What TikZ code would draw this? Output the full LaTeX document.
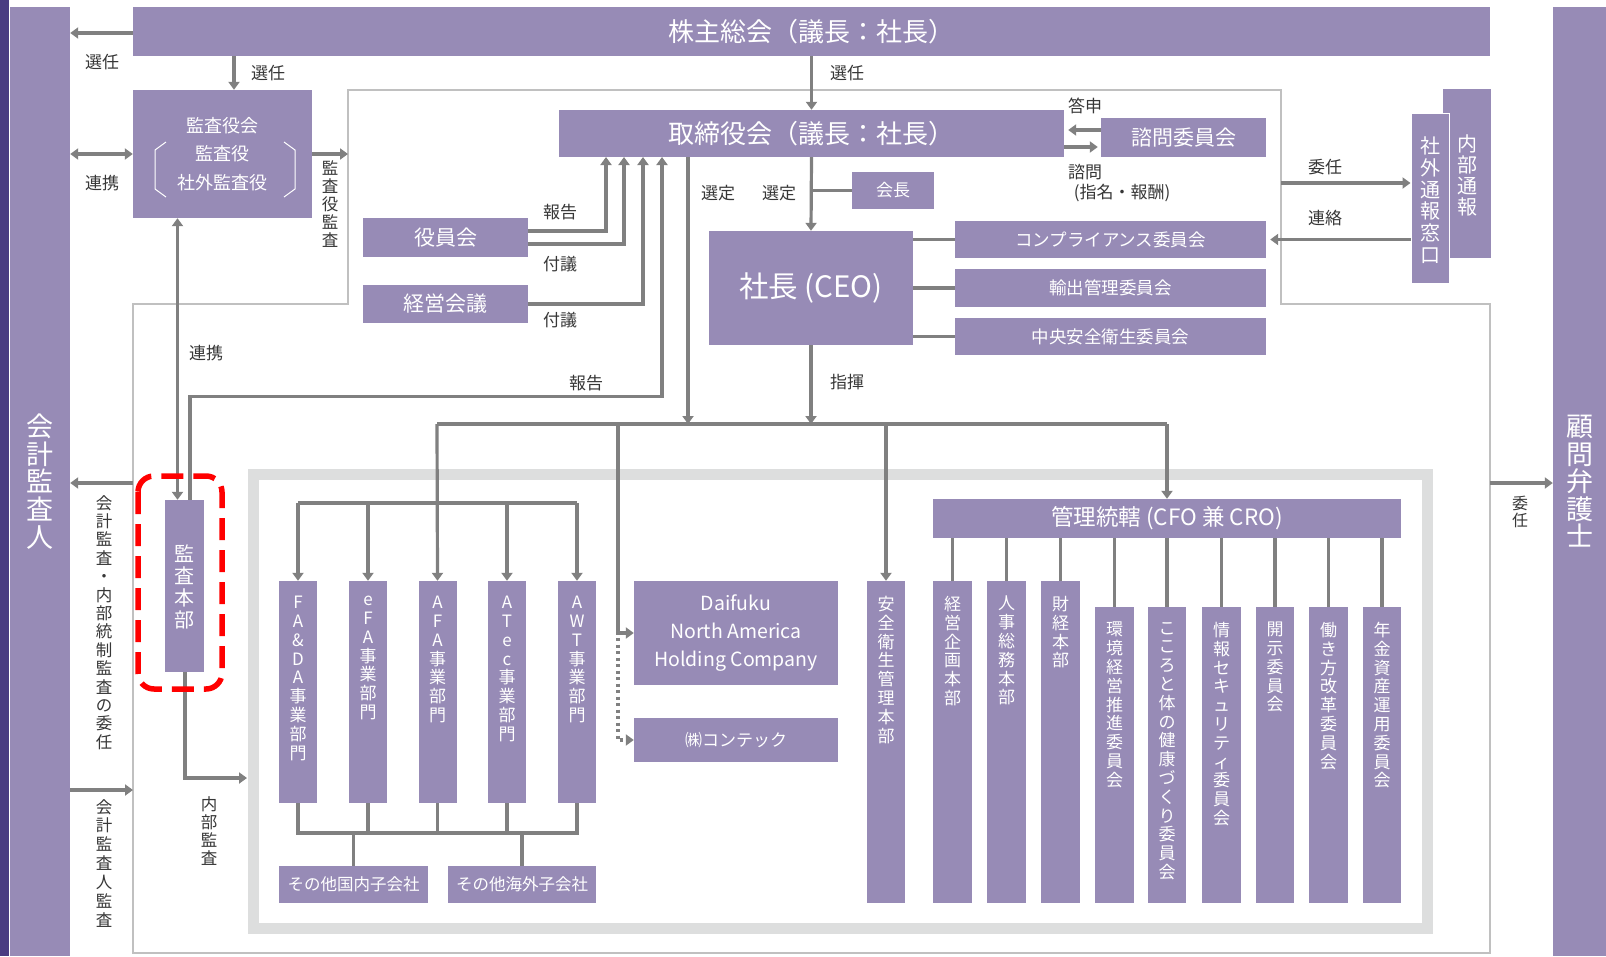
\documentclass[tikz,border=0pt]{standalone}
\usepackage{fontspec}
\setmainfont{Noto Sans CJK JP}
\usetikzlibrary{arrows.meta}
\definecolor{boxc}{RGB}{151,139,182}
\definecolor{darkband}{RGB}{74,60,130}
\definecolor{arrc}{RGB}{128,128,128}
\definecolor{lblc}{RGB}{55,55,55}
\definecolor{framec}{RGB}{192,192,192}
\definecolor{gframe}{RGB}{221,222,222}
\definecolor{redc}{RGB}{255,0,0}
\makeatletter
\newcommand\vstack[1]{\vbox{\@tfor\vs@c:=#1\do{\hbox to 1em{\hss\vs@c\hss}}}}
\makeatother
\newcommand\fs[2]{\fontsize{#1}{#2}\selectfont}
\tikzset{
  box/.style={fill=boxc, draw=none, text=white, inner sep=0pt, align=center},
  lbl/.style={text=lblc, inner sep=0pt, font=\fs{17}{19}},
  vt/.style={text=white, inner sep=0pt, anchor=north},
  conn/.style={draw=arrc, line width=3.2pt},
  arr/.style={conn, -{Triangle[width=11pt,length=8pt]}},
  arrtwo/.style={conn, {Triangle[width=11pt,length=8pt]}-{Triangle[width=11pt,length=8pt]}},
  arrdot/.style={conn, dash pattern=on 3pt off 3.5pt, -{Triangle[width=11pt,length=8pt]}},
}
\begin{document}
\begin{tikzpicture}[x=1pt,y=-1pt]
\useasboundingbox (0,0) rectangle (1606,956);
\fill[white] (0,0) rectangle (1606,956);
\fill[darkband] (0,0) rectangle (9,956);
% frames
\coordinate (f1) at (348,90);
\coordinate (f2) at (1281,90);
\coordinate (f3) at (1281,304);
\coordinate (f4) at (1490,304);
\coordinate (f5) at (1490,953);
\coordinate (f6) at (133,953);
\coordinate (f7) at (133,304);
\coordinate (f8) at (348,304);
\draw[framec, line width=1.5pt] (f1) -- (f2) -- (f3) -- (f4) -- (f5) -- (f6) -- (f7) -- (f8) -- cycle;
\draw[gframe, line width=11pt] (253.5,474) rectangle (1427.5,928.5);

% big side bars
\node[box, minimum width=60pt, minimum height=949pt] (kaikei) at (40,481.5) {};
\node[vt, anchor=center, font=\fs{27}{27.6}] (kaikeit) at (kaikei.center) {\vstack{会計監査人}};
\node[box, minimum width=53pt, minimum height=949pt] (komon) at (1579.5,481.5) {};
\node[vt, anchor=center, font=\fs{27}{27.5}] (komont) at (komon.center) {\vstack{顧問弁護士}};

% top boxes
\node[box, minimum width=1357pt, minimum height=49pt, font=\fs{26}{28}] (kabunushi) at (811.5,31.5) {株主総会（議長：社長）};
\node[box, minimum width=179pt, minimum height=128pt, font=\fs{18}{28.5}] (kyk) at (222.5,154) {監査役会\\監査役\\社外監査役};
\draw[white, line width=1pt] (166,142) -- (155,150) -- (155,189) -- (166,197);
\draw[white, line width=1pt] (284,142) -- (295,150) -- (295,189) -- (284,197);
\node[box, minimum width=505pt, minimum height=47pt, font=\fs{26}{28}] (tori) at (811.5,133.5) {取締役会（議長：社長）};
\node[box, minimum width=165pt, minimum height=39pt, font=\fs{21}{23}] (shimon) at (1183.5,137.5) {諮問委員会};
\node[box, minimum width=82pt, minimum height=37pt, font=\fs{17}{19}] (kaicho) at (893,190.5) {会長};
\node[box, minimum width=204pt, minimum height=114pt, font=\fs{29.5}{31}] (shacho) at (811,288) {社長 (CEO)};
\node[box, minimum width=165pt, minimum height=39pt, font=\fs{21}{23}] (yakuin) at (445.5,237.5) {役員会};
\node[box, minimum width=165pt, minimum height=38pt, font=\fs{21}{23}] (keiei) at (445.5,304) {経営会議};
\node[box, minimum width=311pt, minimum height=37pt, font=\fs{17.5}{19}] (comp) at (1110.5,239.5) {コンプライアンス委員会};
\node[box, minimum width=311pt, minimum height=38pt, font=\fs{17.5}{19}] (yushutsu) at (1110.5,288) {輸出管理委員会};
\node[box, minimum width=311pt, minimum height=37pt, font=\fs{17.5}{19}] (chuo) at (1110.5,336.5) {中央安全衛生委員会};
\node[box, minimum width=48pt, minimum height=169pt] (naibu) at (1467,173.5) {};
\node[vt, anchor=center, font=\fs{20}{21}] (naibut) at (1467,175) {\vstack{内部通報}};
\node[box, draw=white, line width=1pt, minimum width=38pt, minimum height=170pt] (shagai) at (1430,198) {};
\node[vt, anchor=center, font=\fs{20}{21.7}] (shagait) at (1430,200) {\vstack{社外通報窓口}};

% audit dept
\node[box, minimum width=39pt, minimum height=172pt] (honbu) at (184.5,586) {};
\node[vt, anchor=center, font=\fs{20}{22}] (honbut) at (184.5,587) {\vstack{監査本部}};

% business units
\node[box, minimum width=38pt, minimum height=222pt] (fada) at (298,692) {};
\node[box, minimum width=38pt, minimum height=222pt] (efa) at (368,692) {};
\node[box, minimum width=38pt, minimum height=222pt] (afa) at (437.5,692) {};
\node[box, minimum width=38pt, minimum height=222pt] (atec) at (507,692) {};
\node[box, minimum width=38pt, minimum height=222pt] (awt) at (577,692) {};
\node[vt, font=\fs{17}{18.8}] (fadat) at (298,596) {\vstack{FA\&DA事業部門}};
\node[vt, font=\fs{17}{18.8}] (efat) at (368,596) {\vstack{eFA事業部門}};
\node[vt, font=\fs{17}{18.8}] (afat) at (437.5,596) {\vstack{AFA事業部門}};
\node[vt, font=\fs{17}{18.8}] (atect) at (507,596) {\vstack{ATec事業部門}};
\node[vt, font=\fs{17}{18.8}] (awtt) at (577,596) {\vstack{AWT事業部門}};
\node[box, minimum width=149pt, minimum height=37pt, font=\fs{16.5}{18}] (kokunai) at (353.5,884.5) {その他国内子会社};
\node[box, minimum width=148pt, minimum height=37pt, font=\fs{16.5}{18}] (kaigai) at (522,884.5) {その他海外子会社};
\node[box, minimum width=204pt, minimum height=104pt, font=\fs{19.5}{28}] (na) at (736,633) {Daifuku\\North America\\Holding Company};
\node[box, minimum width=204pt, minimum height=44pt, font=\fs{17}{19}] (contec) at (736,740) {㈱コンテック};

% corporate functions
\node[box, minimum width=38pt, minimum height=322pt] (anzen) at (886,742) {};
\node[vt, font=\fs{17}{18.8}] (anzent) at (886,596) {\vstack{安全衛生管理本部}};
\node[box, minimum width=468pt, minimum height=39pt, font=\fs{22.5}{24}] (kanri) at (1167,518.5) {管理統轄 (CFO 兼 CRO)};
\node[box, minimum width=39pt, minimum height=322pt] (kikaku) at (952.5,742) {};
\node[box, minimum width=39pt, minimum height=322pt] (jinji) at (1006.5,742) {};
\node[box, minimum width=39pt, minimum height=322pt] (zaikei) at (1060.5,742) {};
\node[vt, font=\fs{17}{18.8}] (kikakut) at (952.5,596) {\vstack{経営企画本部}};
\node[vt, font=\fs{17}{18.8}] (jinjit) at (1006.5,596) {\vstack{人事総務本部}};
\node[vt, font=\fs{17}{18.8}] (zaikeit) at (1060.5,596) {\vstack{財経本部}};
\node[box, minimum width=39pt, minimum height=296pt] (kankyo) at (1114.5,755) {};
\node[box, minimum width=38pt, minimum height=296pt] (kokoro) at (1167,755) {};
\node[box, minimum width=39pt, minimum height=296pt] (joho) at (1221.5,755) {};
\node[box, minimum width=38pt, minimum height=296pt] (kaiji) at (1275,755) {};
\node[box, minimum width=39pt, minimum height=296pt] (hataraki) at (1328.5,755) {};
\node[box, minimum width=38pt, minimum height=296pt] (nenkin) at (1382,755) {};
\node[vt, font=\fs{17}{18.8}] (kankyot) at (1114.5,622) {\vstack{環境経営推進委員会}};
\node[vt, font=\fs{17}{18.8}] (kokorot) at (1167,622) {\vstack{こころと体の健康づくり委員会}};
\node[vt, font=\fs{17}{18.8}] (johot) at (1221.5,622) {\vstack{情報セキュリティ委員会}};
\node[vt, font=\fs{17}{18.8}] (kaijit) at (1275,622) {\vstack{開示委員会}};
\node[vt, font=\fs{17}{18.8}] (hatarakit) at (1328.5,622) {\vstack{働き方改革委員会}};
\node[vt, font=\fs{17}{18.8}] (nenkint) at (1382,622) {\vstack{年金資産運用委員会}};

% helper coordinates
\coordinate (k1) at ([xshift=11.5pt]kyk.north);
\coordinate (s1) at ([yshift=7.5pt]shimon.west);
\coordinate (s2) at ([yshift=-9.5pt]shimon.west);
\coordinate (s3) at ([yshift=15pt]shagai.west);
\coordinate (u1) at (606,157);
\coordinate (u2) at (624,157);
\coordinate (u3) at (643,157);
\coordinate (u4) at (662,157);
\coordinate (td) at (688,157);
\coordinate (busL) at (437,424);
\coordinate (busR) at (1167,424);
\coordinate (nb) at (618,424);
\coordinate (nd) at (618,638);
\coordinate (fb) at (298,503);
\coordinate (bb) at (298,833);
\coordinate (ka1) at (133,483);
\coordinate (ka2) at (133,790);
\coordinate (ri) at (1490,483);
\coordinate (na1) at (247,778);
\coordinate (rep) at ([xshift=5.5pt]honbu.north);
\coordinate (ren) at ([xshift=-7pt]honbu.north);

% connectors
\draw[arr] ([yshift=-1.5pt]kabunushi.west) -- ([yshift=-1.5pt]kabunushi.west -| kaikei.east);
\draw[arr] (k1 |- kabunushi.south) -- (k1);
\draw[arrtwo] (kyk.west) -- (kyk.west -| kaikei.east);
\draw[arr] (kyk.east) -- (kyk.east -| f1);
\draw[arr] (kabunushi.south -| tori.north) -- (tori.north);
\draw[arr, shorten >=4pt] (s1) -- (s1 -| tori.east);
\draw[arr, shorten >=3pt] (s2 -| tori.east) -- (s2);
\draw[arr] (tori.south) -- (shacho.north);
\draw[conn] (kaicho.west) -- (kaicho.west -| tori.south);
\draw[conn] (shacho.east |- comp.west) -- (comp.west);
\draw[conn] (shacho.east |- yushutsu.west) -- (yushutsu.west);
\draw[conn] (shacho.east |- chuo.west) -- (chuo.west);
\draw[arr] (s3 -| f2) -- (s3);
\draw[arr, shorten >=4pt] (shagai.west |- comp.east) -- (comp.east);
\draw[arr] ([yshift=6.5pt]yakuin.east) -| (u1);
\draw[arr] ([yshift=-6.5pt]yakuin.east) -| (u2);
\draw[arr] (keiei.east) -| (u3);
\draw[arr] (rep) -- ++(0,-103) -| (u4);
\draw[arrtwo] (ren) -- (ren |- kyk.south);
\draw[arr] (td) -- (td |- busL);
\draw[arr] (shacho.south) -- (shacho.south |- busL);
\draw[conn] (busL) -- (busR);
\draw[arr] (busR) -- (kanri.north);
\draw[arr] (busL) -- (afa.north);
\draw[arr] (busL -| anzen.north) -- (anzen.north);
\draw[arr] (nb) |- (na.west);
\draw[arrdot] (nd) |- (contec.west);
\draw[conn] (fb) -- (fb -| awt.north);
\draw[arr] (fb) -- (fada.north);
\draw[arr] (fb -| efa.north) -- (efa.north);
\draw[arr] (fb -| atec.north) -- (atec.north);
\draw[arr] (fb -| awt.north) -- (awt.north);
\draw[conn] (fada.south) |- (bb -| awt.south) -- (awt.south);
\draw[conn] (efa.south) -- (efa.south |- bb);
\draw[conn] (afa.south) -- (afa.south |- bb);
\draw[conn] (atec.south) -- (atec.south |- bb);
\draw[conn] (bb -| kokunai.north) -- (kokunai.north);
\draw[conn] (bb -| kaigai.north) -- (kaigai.north);
\foreach \b in {kikaku,jinji,zaikei,kankyo,kokoro,joho,kaiji,hataraki,nenkin}
  \draw[conn] (kanri.south -| \b.north) -- (\b.north);
\draw[arr] (ka1) -- (ka1 -| kaikei.east);
\draw[arr] (ka2 -| kaikei.east) -- (ka2);
\draw[arr] (ri) -- (ri -| komon.west);
\draw[arr] ([xshift=0.5pt]honbu.south) |- (na1);

% labels
\node[lbl] (l1) at (102,62) {選任};
\node[lbl] (l2) at (268,73) {選任};
\node[lbl] (l3) at (102,183) {連携};
\node[lbl, anchor=north, font=\fs{16.5}{18}] (l4) at (330,161) {\vstack{監査役監査}};
\node[lbl] (l5) at (847,73) {選任};
\node[lbl] (l6) at (1085,106) {答申};
\node[lbl, anchor=west] (l7) at (1068,172) {諮問};
\node[lbl] (l8) at (1122,193) {(指名・報酬)};
\node[lbl] (l9) at (1325,167) {委任};
\node[lbl] (l10) at (1325,218) {連絡};
\node[lbl] (l11) at (560,212) {報告};
\node[lbl] (l12) at (560,264) {付議};
\node[lbl] (l13) at (560,320) {付議};
\node[lbl] (l14) at (586,383) {報告};
\node[lbl] (l15) at (718,193) {選定};
\node[lbl] (l16) at (779,193) {選定};
\node[lbl] (l17) at (847,382) {指揮};
\node[lbl] (l18) at (206,353) {連携};
\node[lbl, anchor=north, font=\fs{16.5}{18.4}] (l19) at (104,495) {\vstack{会計監査・内部統制監査の委任}};
\node[lbl, anchor=north, font=\fs{16.5}{18.9}] (l20) at (104,799) {\vstack{会計監査人監査}};
\node[lbl, anchor=north, font=\fs{16.5}{18}] (l21) at (209,796) {\vstack{内部監査}};
\node[lbl, anchor=north, font=\fs{16}{16.5}] (l22) at (1520,496) {\vstack{委任}};

% highlight
\draw[redc, line width=5.5pt, dash pattern=on 22pt off 10pt, rounded corners=16pt] (138,476) rectangle (222,689);
\end{tikzpicture}
\end{document}
